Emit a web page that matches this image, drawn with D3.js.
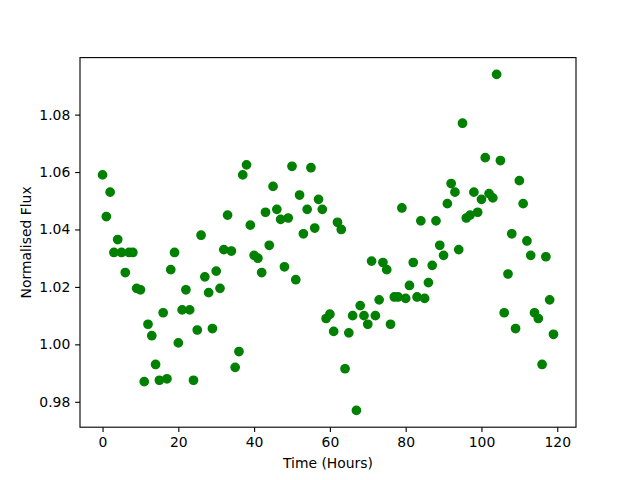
<!DOCTYPE html>
<html>
<head>
<meta charset="utf-8">
<script src="https://cdn.jsdelivr.net/npm/d3@7"></script>
<style>
  body { margin: 0; background: #fff; }
  svg { display: block; }
  .axis text { font-family: "DejaVu Sans", sans-serif; font-size: 13.9px; fill: #000; }
  .label { font-family: "DejaVu Sans", sans-serif; font-size: 13.9px; fill: #000; }
</style>
</head>
<body>
<div id="chart"></div>
<script>
// flux readings, one per hour
const hours = d3.range(0, 120);
const flux = [
  1.059, 1.0445, 1.053, 1.032, 1.0365, 1.032, 1.025, 1.032, 1.032, 1.0195,
  1.019, 0.987, 1.007, 1.003, 0.993, 0.9875, 1.011, 0.988, 1.026, 1.032,
  1.0005, 1.012, 1.019, 1.012, 0.9875, 1.005, 1.038, 1.0235, 1.018, 1.0055,
  1.0255, 1.0195, 1.033, 1.045, 1.0325, 0.992, 0.9975, 1.059, 1.0625, 1.0415,
  1.031, 1.030, 1.025, 1.046, 1.0345, 1.055, 1.047, 1.0435, 1.027, 1.044,
  1.062, 1.0225, 1.052, 1.0385, 1.047, 1.0615, 1.0405, 1.0505, 1.047, 1.009,
  1.0105, 1.0045, 1.0425, 1.040, 0.9915, 1.004, 1.010, 0.977, 1.0135, 1.010,
  1.007, 1.029, 1.010, 1.0155, 1.0285, 1.026, 1.007, 1.0165, 1.0165, 1.0475,
  1.016, 1.0205, 1.0285, 1.0165, 1.043, 1.016, 1.0215, 1.0275, 1.043, 1.0345,
  1.031, 1.049, 1.056, 1.053, 1.033, 1.077, 1.044, 1.045, 1.053, 1.046,
  1.0505, 1.065, 1.0525, 1.051, 1.094, 1.064, 1.011, 1.0245, 1.0385, 1.0055,
  1.057, 1.049, 1.036, 1.031, 1.011, 1.009, 0.993, 1.0305, 1.0155, 1.0035
];
const xTicks = [0, 20, 40, 60, 80, 100, 120];
const yTicks = [0.98, 1.00, 1.02, 1.04, 1.06, 1.08];

const width = 640, height = 480;
const margin = { top: 57.6, right: 64, bottom: 52.8, left: 80 };
const pt = 100 / 72;

const svg = d3.select("#chart")
  .append("svg")
  .attr("width", width)
  .attr("height", height);

// matplotlib-style 5% padding around the data
const xExt = d3.extent(hours), yExt = d3.extent(flux);
const xPad = (xExt[1] - xExt[0]) * 0.05, yPad = (yExt[1] - yExt[0]) * 0.05;

const x = d3.scaleLinear()
  .domain([xExt[0] - xPad, xExt[1] + xPad])
  .range([margin.left, width - margin.right]);

const y = d3.scaleLinear()
  .domain([yExt[0] - yPad, yExt[1] + yPad])
  .range([height - margin.bottom, margin.top]);

svg.append("g")
  .selectAll("circle")
  .data(hours)
  .enter()
  .append("circle")
  .attr("cx", d => x(d))
  .attr("cy", (d, i) => y(flux[i]))
  .attr("r", 3 * pt)
  .attr("fill", "#008000")
  .attr("stroke", "#008000")
  .attr("stroke-width", 1 * pt);

const xAxis = svg.append("g")
  .attr("class", "axis")
  .attr("transform", "translate(0," + (height - margin.bottom) + ")")
  .call(d3.axisBottom(x).tickValues(xTicks).tickFormat(d3.format("d"))
    .tickSize(3.5 * pt).tickPadding(3.5 * pt).tickSizeOuter(0));

const yAxis = svg.append("g")
  .attr("class", "axis")
  .attr("transform", "translate(" + margin.left + ",0)")
  .call(d3.axisLeft(y).tickValues(yTicks).tickFormat(d3.format(".2f"))
    .tickSize(3.5 * pt).tickPadding(3.5 * pt).tickSizeOuter(0));

svg.selectAll(".axis .domain").remove();
svg.selectAll(".axis line").attr("stroke", "#000").attr("stroke-width", 0.8 * pt);

// frame
svg.append("rect")
  .attr("x", margin.left)
  .attr("y", margin.top)
  .attr("width", width - margin.left - margin.right)
  .attr("height", height - margin.top - margin.bottom)
  .attr("fill", "none")
  .attr("stroke", "#000")
  .attr("stroke-width", 0.8 * pt);

svg.append("text")
  .attr("class", "label")
  .attr("x", (margin.left + width - margin.right) / 2)
  .attr("y", 468)
  .attr("text-anchor", "middle")
  .text("Time (Hours)");

svg.append("text")
  .attr("class", "label")
  .attr("transform", "translate(31," + ((margin.top + height - margin.bottom) / 2) + ") rotate(-90)")
  .attr("text-anchor", "middle")
  .text("Normalised Flux");
</script>
</body>
</html>
